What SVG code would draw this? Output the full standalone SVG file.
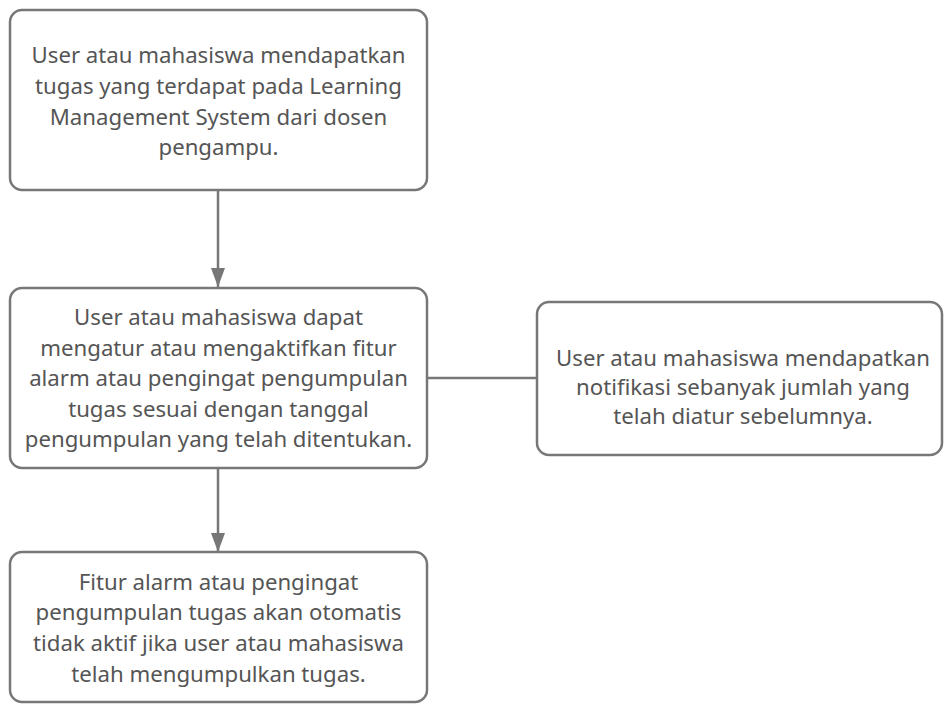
<svg xmlns="http://www.w3.org/2000/svg" width="946" height="704" viewBox="0 0 946 704">
<style>
.box{fill:#fff;stroke:#777;stroke-width:2.5}
.t{font-family:"Noto Sans","Open Sans",sans-serif;font-size:22.2px;fill:#555;text-anchor:middle}
.c{stroke:#777;stroke-width:2.5;fill:none}
</style>
<defs>
<marker id="ah" markerWidth="20" markerHeight="14" refX="19" refY="7" orient="auto" markerUnits="userSpaceOnUse">
<path d="M0,0 L19,7 L0,14 Z" fill="#777"/>
</marker>
</defs>
<rect width="946" height="704" fill="#fff"/>
<g id="connectors">
<line class="c" x1="218" y1="190" x2="218" y2="287" marker-end="url(#ah)"/>
<line class="c" x1="218" y1="468" x2="218" y2="552" marker-end="url(#ah)"/>
<line class="c" x1="427" y1="378" x2="537" y2="378"/>
</g>
<g id="n1">
<rect class="box" x="10" y="10" width="417" height="180" rx="12"/>
<text class="t" x="218.5" y="63">User atau mahasiswa mendapatkan</text>
<text class="t" x="218.5" y="94">tugas yang terdapat pada Learning</text>
<text class="t" x="218.5" y="125">Management System dari dosen</text>
<text class="t" x="218.5" y="155">pengampu.</text>
</g>
<g id="n2">
<rect class="box" x="10" y="288" width="417" height="180" rx="12"/>
<text class="t" x="218.5" y="325">User atau mahasiswa dapat</text>
<text class="t" x="218.5" y="356">mengatur atau mengaktifkan fitur</text>
<text class="t" x="218.5" y="386">alarm atau pengingat pengumpulan</text>
<text class="t" x="218.5" y="417">tugas sesuai dengan tanggal</text>
<text class="t" x="218.5" y="447">pengumpulan yang telah ditentukan.</text>
</g>
<g id="n3">
<rect class="box" x="537" y="302" width="405" height="153" rx="12"/>
<text class="t" x="743" y="366">User atau mahasiswa mendapatkan</text>
<text class="t" x="743" y="395">notifikasi sebanyak jumlah yang</text>
<text class="t" x="743" y="424">telah diatur sebelumnya.</text>
</g>
<g id="n4">
<rect class="box" x="10" y="552" width="417" height="150" rx="12"/>
<text class="t" x="218.5" y="590">Fitur alarm atau pengingat</text>
<text class="t" x="218.5" y="620">pengumpulan tugas akan otomatis</text>
<text class="t" x="218.5" y="651">tidak aktif jika user atau mahasiswa</text>
<text class="t" x="218.5" y="682">telah mengumpulkan tugas.</text>
</g>
</svg>
